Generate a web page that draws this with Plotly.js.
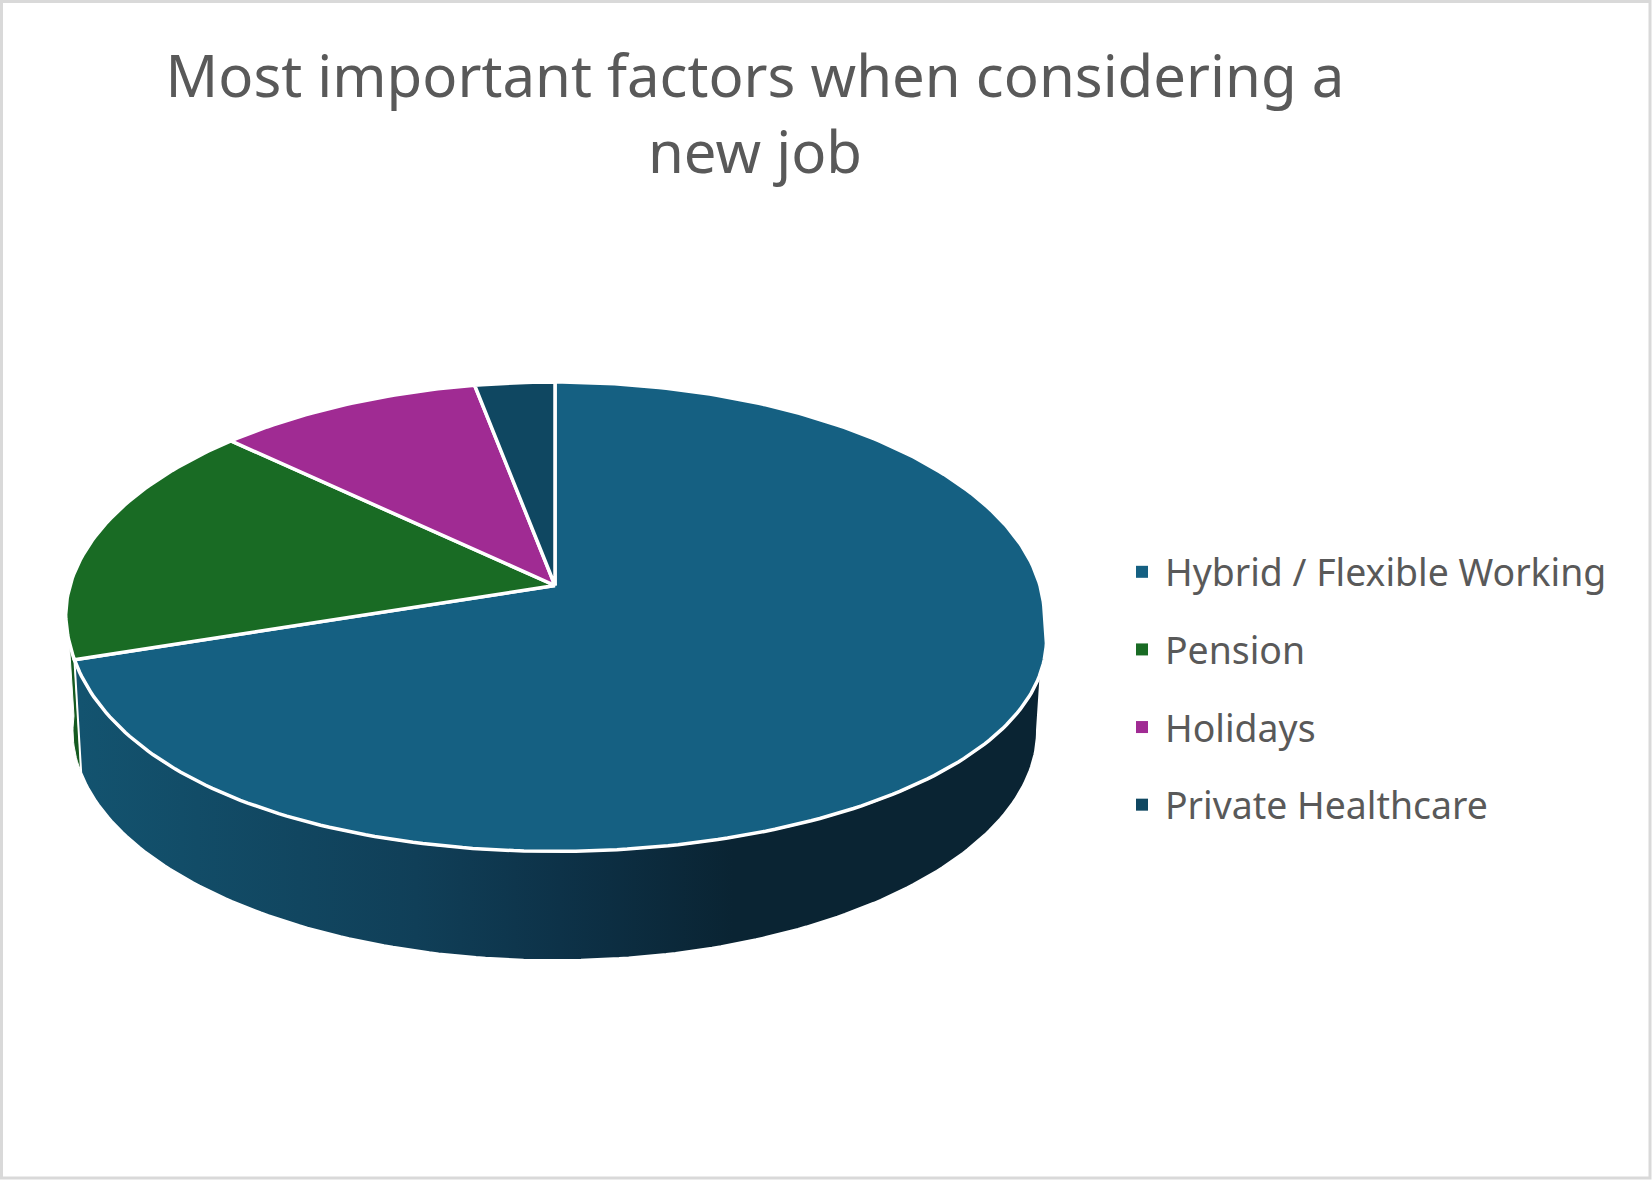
<!DOCTYPE html>
<html>
<head>
<meta charset="utf-8">
<script src="https://cdn.plot.ly/plotly-3.0.1.min.js"></script>
<style>html,body{margin:0;padding:0;background:#fff}#chart{width:1652px;height:1182px}</style>
</head>
<body>
<div id="chart"></div>
<script>
const categories = ["Hybrid / Flexible Working", "Pension", "Holidays", "Private Healthcare"];
const shares = [70, 17, 10, 3];
const sliceColors = ["#156082", "#196B24", "#A02B93", "#0F4761"];
const titleText = "Most important factors when considering a<br>new job";

// projection of the tilted disc
const cx = 555, cy = 585.5, A = 485, B = 230.5, k = 0.133, discMidY = 616;
const lowerA = 485, lowerB = 229, lowerCy = 585, depth = 115, shrink = 0.985;
function upperRim(t){
  const r = t*Math.PI/180, u = Math.sin(r), v = Math.cos(r), w = 1 + k*v;
  let x = A*u/w; const y = cy - B*v/w;
  const d = y - discMidY;
  // the front of the disc bulges slightly outward in the reference
  if (d > 0) {
    const ramp = u < 0 ? Math.pow(d/233, 1.5) : d/233;
    x = x*(1 + 0.06*ramp) + 5*Math.sin(Math.PI*Math.min(d,233)/233);
  }
  return [cx + x, y];
}
function lowerRim(t){
  const r = t*Math.PI/180, u = Math.sin(r), v = Math.cos(r), w = 1 + k*v;
  return [cx + shrink*lowerA*u/w, lowerCy + depth - shrink*lowerB*v/w];
}
function sweep(a,b){ const o=[]; const n=Math.max(2,Math.ceil(Math.abs(b-a))); for(let i=0;i<=n;i++) o.push(a+(b-a)*i/n); return o; }

const total = shares.reduce((s,x)=>s+x,0);
const starts = []; let acc = 0;
shares.forEach(s=>{ starts.push(acc); acc += s; });
const deg = s => s/total*360;

const traces = [];
// side walls
const blueEnd = deg(shares[0]);
function wall(a,b,extra){
  const tp = sweep(a,b).map(upperRim), lp = sweep(b,a).map(lowerRim);
  const pts = tp.concat(lp); pts.push(pts[0]);
  return Object.assign({type:"scatter",mode:"lines",x:pts.map(p=>p[0]),y:pts.map(p=>p[1]),fill:"toself",showlegend:false,hoverinfo:"skip"},extra);
}
traces.push(wall(blueEnd, blueEnd+14, {fillcolor:"#155a20", line:{color:"#ffffff",width:1}}));
traces.push(wall(97.6, blueEnd, {
  line:{color:"#ffffff",width:2},
  fillgradient:{type:"horizontal",start:80,stop:1040,
    colorscale:[[0,"#13536F"],[0.35,"#103F58"],[0.5,"#0D3248"],[0.68,"#0A2433"],[1,"#0A2433"]]}
}));
// top face slices
shares.forEach((s,i)=>{
  const a = deg(starts[i]), b = deg(starts[i]+s);
  const rim = sweep(a,b).map(upperRim);
  const pts = [[cx,cy]].concat(rim,[[cx,cy]]);
  traces.push({type:"scatter",mode:"lines",x:pts.map(p=>p[0]),y:pts.map(p=>p[1]),fill:"toself",
    fillcolor:sliceColors[i],line:{color:"#ffffff",width:3.5},showlegend:false,name:categories[i],
    hovertemplate:categories[i]+": "+s+"%<extra></extra>"});
});
// legend entries
categories.forEach((c,i)=>{
  traces.push({type:"scatter",mode:"markers",x:[null],y:[null],name:c,legendgroup:"g"+i,
    marker:{symbol:"square",size:14,color:sliceColors[i]},hoverinfo:"skip"});
});

const layout = {
  width:1652,height:1182,margin:{l:0,r:0,t:0,b:0},
  paper_bgcolor:"#ffffff",plot_bgcolor:"#ffffff",
  xaxis:{range:[0,1652],visible:false,fixedrange:true},
  yaxis:{range:[1182,0],visible:false,fixedrange:true},
  title:{text:titleText,x:755/1652,xanchor:"center",y:1-97/1182,yanchor:"top",
    font:{family:"Noto Sans",size:58.1,color:"#595959"}},
  legend:{x:1119/1652,xanchor:"left",y:1-541/1182,yanchor:"top",tracegroupgap:26,itemwidth:36,bgcolor:"rgba(0,0,0,0)",
    font:{family:"Noto Sans",size:37.4,color:"#595959"},itemsizing:"constant"},
  shapes:[{type:"rect",xref:"paper",yref:"paper",x0:1.5/1652,x1:1650/1652,y0:1-1178/1182,y1:1-1.5/1182,
    line:{color:"#D9D9D9",width:3},fillcolor:"rgba(0,0,0,0)"}]
};
Plotly.newPlot("chart",traces,layout,{displayModeBar:false,staticPlot:true});
</script>
</body>
</html>
